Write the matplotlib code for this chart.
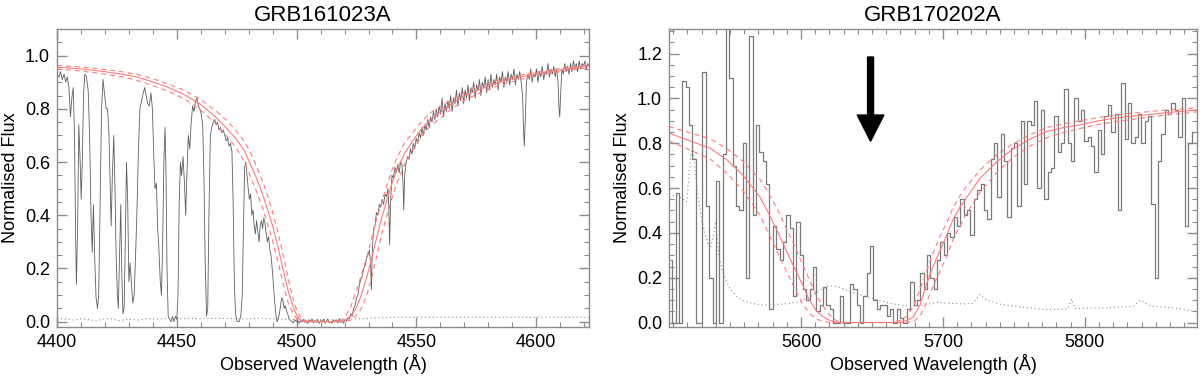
import matplotlib
matplotlib.use("Agg")
import matplotlib.pyplot as plt
import matplotlib.ticker as mticker

plt.rcParams["font.family"] = ["Liberation Sans", "DejaVu Sans"]

# ---------------- GRB161023A (left) ----------------
wave_a = [
    4400.0, 4400.8, 4401.5, 4402.2, 4403.0, 4403.6, 4404.3, 4405.0, 4405.6, 4406.2,
    4406.8, 4407.3, 4407.8, 4408.1, 4408.6, 4409.1, 4409.6, 4410.1, 4410.6, 4411.1,
    4411.6, 4412.3, 4413.0, 4413.6, 4414.2, 4414.7, 4415.2, 4415.7, 4416.3, 4416.9,
    4417.4, 4418.0, 4418.6, 4419.2, 4419.8, 4420.5, 4421.1, 4421.7, 4422.2, 4422.6,
    4423.1, 4423.7, 4424.2, 4424.7, 4425.2, 4425.6, 4426.1, 4426.6, 4427.0, 4427.5,
    4428.0, 4428.5, 4429.0, 4429.5, 4430.0, 4430.5, 4431.0, 4431.6, 4432.2, 4432.8,
    4433.4, 4434.0, 4434.6, 4435.3, 4436.0, 4436.6, 4437.2, 4437.8, 4438.5, 4439.2,
    4439.8, 4440.4, 4440.9, 4441.5, 4442.0, 4442.5, 4443.1, 4443.6, 4444.1, 4444.6,
    4445.1, 4445.5, 4445.9, 4446.4, 4447.0, 4447.6, 4448.2, 4448.8, 4449.4, 4450.0,
    4450.5, 4451.0, 4451.5, 4452.0, 4452.6, 4453.2, 4453.7, 4454.2, 4454.8, 4455.4,
    4456.0, 4456.6, 4457.2, 4457.8, 4458.4, 4459.0, 4459.6, 4460.2, 4460.8, 4461.3,
    4461.8, 4462.4, 4462.9, 4463.4, 4464.0, 4464.6, 4465.2, 4465.8, 4466.4, 4467.0,
    4467.6, 4468.2, 4468.8, 4469.4, 4470.0, 4470.6, 4471.2, 4471.8, 4472.4, 4473.0,
    4473.5, 4474.0, 4474.5, 4475.2, 4476.0, 4476.7, 4477.3, 4477.8, 4478.3, 4478.8,
    4479.3, 4479.8, 4480.3, 4480.8, 4481.3, 4481.8, 4482.3, 4482.8, 4483.3, 4483.8,
    4484.3, 4484.8, 4485.3, 4485.8, 4486.3, 4486.8, 4487.3, 4487.8, 4488.3, 4488.8,
    4489.3, 4489.8, 4490.3, 4490.8, 4491.3, 4491.8, 4492.3, 4492.8, 4493.3, 4493.8,
    4494.3, 4494.8, 4495.3, 4495.8, 4496.3, 4496.8, 4497.4,
    4498.0, 4498.6, 4499.2, 4499.8, 4500.4, 4501.0, 4501.6, 4502.2, 4502.8, 4503.4,
    4504.0, 4504.6, 4505.2, 4505.8, 4506.4, 4507.0, 4507.6, 4508.2, 4508.8, 4509.4,
    4510.0, 4510.6, 4511.2, 4511.8, 4512.4, 4513.0, 4513.6, 4514.2, 4514.8, 4515.4,
    4516.0, 4516.6, 4517.2, 4517.8, 4518.4, 4519.0, 4519.6, 4520.2, 4520.8, 4521.4,
    4522.0, 4522.6, 4523.2, 4523.8, 4524.4, 4525.0, 4525.6, 4526.2, 4526.8, 4527.4,
    4528.0, 4528.6, 4529.2, 4529.8, 4530.4, 4530.9, 4531.2, 4531.6, 4532.1, 4532.7,
    4533.3, 4533.9, 4534.5, 4535.1, 4535.7, 4536.3, 4536.9, 4537.5, 4538.1, 4538.5,
    4538.8, 4539.2, 4539.8, 4540.4, 4541.0, 4541.6, 4542.2, 4542.8, 4543.4, 4544.0,
    4544.4, 4544.7, 4545.1, 4545.7, 4546.3, 4546.9, 4547.5, 4548.1, 4548.7, 4549.3,
    4549.9, 4550.5, 4551.1, 4551.7, 4552.3, 4552.9, 4553.5, 4554.1, 4554.7, 4555.3,
    4555.9, 4556.5, 4557.1, 4557.7, 4558.3, 4558.9, 4559.5, 4560.1, 4560.7, 4561.3,
    4561.9, 4562.5, 4563.1, 4563.7, 4564.3, 4564.9, 4565.5, 4566.1, 4566.7, 4567.3,
    4567.9, 4568.5, 4569.1, 4569.7, 4570.3, 4570.9, 4571.5, 4572.1, 4572.7, 4573.3,
    4573.9, 4574.5, 4575.1, 4575.7, 4576.3, 4576.9, 4577.5, 4578.1, 4578.7, 4579.3,
    4579.9, 4580.5, 4581.1, 4581.7, 4582.3, 4582.9, 4583.5, 4584.1, 4584.7, 4585.3,
    4585.9, 4586.5, 4587.1, 4587.7, 4588.3, 4588.9, 4589.5, 4590.1, 4590.7, 4591.3,
    4591.9, 4592.5, 4593.1, 4593.7, 4594.3, 4594.7, 4595.0, 4595.4, 4595.9, 4596.5,
    4597.1, 4597.7, 4598.3, 4598.9, 4599.5, 4600.1, 4600.7, 4601.3, 4601.9, 4602.5,
    4603.1, 4603.7, 4604.3, 4604.9, 4605.5, 4606.1, 4606.7, 4607.3, 4607.9, 4608.5,
    4609.1, 4609.5, 4609.8, 4610.2, 4610.7, 4611.3, 4611.9, 4612.5, 4613.1, 4613.7,
    4614.3, 4614.9, 4615.5, 4616.1, 4616.7, 4617.3, 4617.9, 4618.5, 4619.1, 4619.7,
    4620.3, 4620.9, 4621.5, 4622.0,
]
flux_a = [
    0.93, 0.92, 0.94, 0.91, 0.93, 0.90, 0.92, 0.88, 0.77, 0.84,
    0.88, 0.70, 0.30, 0.14, 0.35, 0.74, 0.62, 0.46, 0.62, 0.86,
    0.93, 0.92, 0.87, 0.70, 0.40, 0.26, 0.44, 0.25, 0.09, 0.05,
    0.10, 0.45, 0.80, 0.91, 0.86, 0.80, 0.80, 0.70, 0.52, 0.36,
    0.55, 0.70, 0.50, 0.24, 0.10, 0.05, 0.25, 0.44, 0.20, 0.03,
    0.05, 0.30, 0.60, 0.45, 0.15, 0.22, 0.15, 0.07, 0.10, 0.25,
    0.43, 0.65, 0.80, 0.83, 0.86, 0.88, 0.85, 0.82, 0.81, 0.86,
    0.80, 0.62, 0.50, 0.52, 0.35, 0.28, 0.15, 0.10, 0.30, 0.60,
    0.73, 0.55, 0.20, 0.02, 0.01, 0.00, 0.02, 0.00, 0.02, 0.01,
    0.10, 0.45, 0.60, 0.55, 0.62, 0.52, 0.40, 0.55, 0.70, 0.65,
    0.75, 0.81, 0.79, 0.83, 0.84, 0.81, 0.80, 0.78, 0.74, 0.55,
    0.25, 0.02, 0.05, 0.40, 0.70, 0.73, 0.75, 0.76, 0.74, 0.75,
    0.72, 0.73, 0.71, 0.72, 0.70, 0.68, 0.69, 0.66, 0.67, 0.64,
    0.45, 0.15, 0.03, 0.00, 0.00, 0.02, 0.10, 0.35, 0.58, 0.60,
    0.55, 0.50, 0.46, 0.48, 0.40, 0.42, 0.36, 0.33, 0.38, 0.34,
    0.30, 0.36, 0.38, 0.35, 0.39, 0.37, 0.33, 0.30, 0.32, 0.27,
    0.25, 0.20, 0.14, 0.08, 0.03, 0.00, 0.01, 0.03, 0.06, 0.09,
    0.08, 0.05, 0.06, 0.04, 0.03, 0.01, 0.005,
    0.000, -0.004, 0.008, 0.000, 0.006, -0.006, 0.004, -0.002, 0.009, -0.003,
    0.003, -0.007, 0.006, 0.001, 0.010, -0.004, 0.005, -0.002, 0.008, -0.006,
    0.004, 0.000, 0.009, -0.005, 0.003, 0.010, -0.004, 0.002, -0.006, 0.007,
    0.000, 0.006, -0.005, 0.012, -0.003, 0.004, -0.006, 0.008, 0.002, 0.015,
    0.01, 0.03, 0.02, 0.05, 0.06, 0.09, 0.10, 0.14, 0.16, 0.17,
    0.20, 0.21, 0.24, 0.25, 0.27, 0.21, 0.12, 0.26, 0.35, 0.36,
    0.41, 0.40, 0.44, 0.43, 0.46, 0.44, 0.48, 0.47, 0.50, 0.42,
    0.29, 0.45, 0.55, 0.54, 0.58, 0.56, 0.59, 0.56, 0.60, 0.59,
    0.52, 0.42, 0.55, 0.60, 0.62, 0.61, 0.65, 0.63, 0.67, 0.65,
    0.69, 0.67, 0.71, 0.69, 0.73, 0.70, 0.74, 0.72, 0.76, 0.73,
    0.77, 0.75, 0.79, 0.76, 0.80, 0.77, 0.81, 0.78, 0.84, 0.77,
    0.82, 0.79, 0.83, 0.80, 0.85, 0.79, 0.84, 0.82, 0.87, 0.81,
    0.86, 0.83, 0.88, 0.82, 0.87, 0.84, 0.89, 0.83, 0.88, 0.86,
    0.90, 0.84, 0.89, 0.87, 0.91, 0.85, 0.90, 0.88, 0.92, 0.86,
    0.91, 0.87, 0.93, 0.88, 0.91, 0.89, 0.93, 0.87, 0.92, 0.90,
    0.94, 0.88, 0.92, 0.90, 0.94, 0.89, 0.93, 0.91, 0.95, 0.89,
    0.93, 0.91, 0.94, 0.90, 0.85, 0.72, 0.66, 0.75, 0.90, 0.93,
    0.91, 0.95, 0.90, 0.93, 0.92, 0.95, 0.90, 0.94, 0.92, 0.96,
    0.91, 0.94, 0.93, 0.97, 0.92, 0.95, 0.93, 0.96, 0.92, 0.95,
    0.90, 0.80, 0.77, 0.86, 0.95, 0.93, 0.97, 0.94, 0.96, 0.93,
    0.97, 0.94, 0.98, 0.95, 0.97, 0.94, 0.98, 0.95, 0.97, 0.96,
    0.98, 0.95, 0.97, 0.96,
]

err_wave_a = [4400, 4404, 4407, 4410, 4413, 4416, 4419, 4422, 4426, 4430, 4434, 4438,
              4442, 4446, 4450, 4455, 4460, 4466, 4472, 4478, 4484, 4490, 4496, 4502,
              4508, 4514, 4520, 4526, 4532, 4540, 4550, 4560, 4575, 4590, 4605, 4622]
err_a = [0.012, 0.010, 0.006, 0.011, 0.008, 0.003, 0.009, 0.012, 0.004, 0.010, 0.006, 0.012,
         0.009, 0.013, 0.010, 0.013, 0.011, 0.013, 0.012, 0.010, 0.013, 0.011, 0.009, 0.006,
         0.008, 0.006, 0.008, 0.011, 0.014, 0.016, 0.017, 0.016, 0.017, 0.016, 0.017, 0.016]

model_wave_a = [4400, 4410, 4418, 4426, 4433, 4439, 4446, 4453, 4460, 4466.6,
                4471, 4475, 4478, 4480.5, 4483, 4485.5, 4487.5, 4490, 4492, 4494.4,
                4496.5, 4498.6, 4500, 4501.4, 4503, 4505, 4515, 4518, 4520.2, 4522.5,
                4525.1, 4527, 4529.3, 4531.5, 4533.5, 4535.5, 4537.7, 4539.8, 4541.8, 4545,
                4548.8, 4552, 4555.8, 4562, 4566, 4570, 4577, 4583.7, 4590, 4597.6,
                4604, 4611.5, 4617, 4622]
model_a = [0.957, 0.950, 0.942, 0.932, 0.920, 0.904, 0.882, 0.854, 0.816, 0.766,
           0.725, 0.684, 0.645, 0.596, 0.545, 0.487, 0.432, 0.360, 0.290, 0.194,
           0.115, 0.055, 0.025, 0.008, 0.001, 0.000, 0.000, 0.001, 0.005, 0.020,
           0.055, 0.100, 0.168, 0.245, 0.320, 0.390, 0.458, 0.520, 0.571, 0.632,
           0.684, 0.724, 0.760, 0.800, 0.827, 0.848, 0.875, 0.897, 0.912, 0.928,
           0.938, 0.948, 0.955, 0.962]
model_hi_a = [0.963, 0.957, 0.950, 0.941, 0.930, 0.916, 0.895, 0.870, 0.835, 0.790,
              0.755, 0.715, 0.680, 0.640, 0.590, 0.535, 0.485, 0.410, 0.345, 0.250,
              0.160, 0.085, 0.045, 0.020, 0.006, 0.001, 0.000, 0.003, 0.018, 0.055,
              0.120, 0.175, 0.245, 0.320, 0.390, 0.450, 0.515, 0.570, 0.615, 0.670,
              0.715, 0.750, 0.785, 0.820, 0.843, 0.862, 0.887, 0.907, 0.920, 0.935,
              0.944, 0.953, 0.960, 0.966]
model_lo_a = [0.950, 0.942, 0.933, 0.922, 0.908, 0.890, 0.868, 0.838, 0.795, 0.742,
              0.695, 0.650, 0.605, 0.550, 0.495, 0.435, 0.380, 0.305, 0.235, 0.140,
              0.070, 0.030, 0.012, 0.004, 0.001, 0.000, 0.000, 0.000, 0.001, 0.006,
              0.025, 0.050, 0.100, 0.170, 0.250, 0.330, 0.400, 0.465, 0.520, 0.590,
              0.650, 0.695, 0.735, 0.780, 0.808, 0.832, 0.862, 0.886, 0.902, 0.920,
              0.930, 0.942, 0.949, 0.955]

# ---------------- GRB170202A (right) ----------------
wave_b = [
    5508.2, 5510.6, 5512.9, 5515.3, 5517.6, 5520.0, 5522.4, 5524.7, 5527.1, 5529.4,
    5531.8, 5534.2, 5536.5, 5538.9, 5541.2, 5543.6, 5546.0, 5548.3, 5550.7, 5553.0,
    5555.4, 5557.8, 5560.1, 5562.5, 5564.8, 5567.2, 5569.6, 5571.9, 5574.3, 5576.6,
    5579.0, 5581.4, 5583.7, 5586.1, 5588.4, 5590.8, 5593.2, 5595.5, 5597.9, 5600.2,
    5602.6, 5605.0, 5607.3, 5609.7, 5612.0, 5614.4, 5616.8, 5619.1, 5621.5, 5623.8,
    5626.2, 5628.6, 5630.9, 5633.3, 5635.6, 5638.0, 5640.4, 5642.7, 5645.1, 5647.4,
    5649.8, 5652.2, 5654.5, 5656.9, 5659.2, 5661.6, 5664.0, 5666.3, 5668.7, 5671.0,
    5673.4, 5675.8, 5678.1, 5680.5, 5682.8, 5685.2, 5687.6, 5689.9, 5692.3, 5694.6,
    5697.0, 5699.4, 5701.7, 5704.1, 5706.4, 5708.8, 5711.2, 5713.5, 5715.9, 5718.2,
    5720.6, 5723.0, 5725.3, 5727.7, 5730.0, 5732.4, 5734.8, 5737.1, 5739.5, 5741.8,
    5744.2, 5746.6, 5748.9, 5751.3, 5753.6, 5756.0, 5758.4, 5760.7, 5763.1, 5765.4,
    5767.8, 5770.2, 5772.5, 5774.9, 5777.2, 5779.6, 5782.0, 5784.3, 5786.7, 5789.0,
    5791.4, 5793.8, 5796.1, 5798.5, 5800.8, 5803.2, 5805.6, 5807.9, 5810.3, 5812.6,
    5815.0, 5817.4, 5819.7, 5822.1, 5824.4, 5826.8, 5829.2, 5831.5, 5833.9, 5836.2,
    5838.6, 5841.0, 5843.3, 5845.7, 5848.0, 5850.4, 5852.8, 5855.1, 5857.5, 5859.8,
    5862.2, 5864.6, 5866.9, 5869.3, 5871.6, 5874.0, 5876.4,
]
flux_b = [
    0.28, 0.00, 0.58, 0.00, 1.08, 1.05, 0.88, 0.73, 0.00, 0.00,
    1.12, 0.52, 0.20, 0.00, 0.63, 0.00, 0.75, 1.50, 1.09, 0.70,
    0.52, 0.50, 0.80, 0.20, 1.28, 0.48, 0.88, 0.76, 0.72, 0.62,
    0.06, 0.43, 0.33, 0.28, 0.36, 0.48, 0.42, 0.12, 0.45, 0.30,
    0.15, 0.10, 0.15, 0.25, 0.05, 0.08, 0.16, 0.08, 0.06, 0.00,
    0.00, 0.12, 0.00, 0.00, 0.17, 0.15, 0.08, 0.00, 0.12, 0.22,
    0.34, 0.10, 0.06, 0.08, 0.08, 0.03, 0.06, 0.00, 0.06, 0.02,
    0.00, 0.06, 0.18, 0.08, 0.10, 0.22, 0.15, 0.30, 0.20, 0.15,
    0.28, 0.36, 0.30, 0.40, 0.38, 0.47, 0.43, 0.55, 0.48, 0.50,
    0.39, 0.55, 0.59, 0.62, 0.50, 0.46, 0.73, 0.80, 0.56, 0.84,
    0.72, 0.47, 0.78, 0.80, 0.52, 0.90, 0.62, 0.90, 0.88, 0.99,
    0.60, 0.95, 0.55, 0.67, 0.69, 0.92, 0.76, 0.80, 1.04, 0.80,
    0.72, 1.00, 0.90, 0.95, 0.81, 0.83, 0.79, 0.67, 0.86, 0.75,
    0.92, 0.97, 0.85, 0.93, 0.50, 1.07, 0.82, 0.98, 0.80, 0.83,
    0.93, 0.80, 0.90, 0.92, 0.53, 0.20, 0.72, 0.84, 0.95, 0.93,
    0.98, 0.95, 0.83, 1.00, 0.43, 0.80, 0.85,
]

err_wave_b = [5507, 5512, 5517, 5519.5, 5522, 5523.5, 5525, 5527, 5530, 5533,
              5536, 5538, 5540, 5542, 5545, 5550, 5555, 5560, 5566, 5573,
              5582, 5592, 5600, 5608, 5615, 5620, 5626, 5635, 5649, 5663,
              5677, 5686, 5696, 5705, 5713, 5721, 5726, 5731, 5740, 5754,
              5773, 5788, 5790.6, 5793, 5815, 5834, 5839, 5846, 5867, 5879]
err_b = [0.56, 0.57, 0.55, 0.54, 0.72, 0.79, 0.72, 0.58, 0.46, 0.38,
         0.33, 0.38, 0.45, 0.30, 0.22, 0.15, 0.115, 0.095, 0.085, 0.078,
         0.080, 0.085, 0.095, 0.120, 0.150, 0.165, 0.160, 0.137, 0.110, 0.085,
         0.072, 0.078, 0.090, 0.086, 0.083, 0.085, 0.125, 0.100, 0.082, 0.070,
         0.058, 0.060, 0.105, 0.062, 0.066, 0.072, 0.100, 0.074, 0.062, 0.048]

model_wave_b = [5507, 5520, 5536, 5548, 5559, 5571, 5577, 5583, 5589, 5595,
                5601, 5606, 5611, 5616, 5620, 5625, 5630, 5665, 5670, 5675,
                5679, 5684, 5688.5, 5693, 5698, 5703, 5707, 5712, 5717, 5726,
                5738, 5750, 5762, 5773, 5785, 5796, 5808, 5820, 5832, 5843,
                5860, 5879]
model_b = [0.845, 0.815, 0.778, 0.725, 0.658, 0.561, 0.490, 0.412, 0.330, 0.248,
           0.170, 0.099, 0.050, 0.024, 0.010, 0.001, 0.000, 0.000, 0.002, 0.010,
           0.024, 0.080, 0.173, 0.250, 0.322, 0.395, 0.457, 0.515, 0.561, 0.643,
           0.718, 0.778, 0.820, 0.852, 0.870, 0.882, 0.898, 0.912, 0.920, 0.927,
           0.938, 0.949]
model_hi_b = [0.875, 0.850, 0.820, 0.775, 0.720, 0.640, 0.580, 0.510, 0.430, 0.350,
              0.260, 0.190, 0.120, 0.070, 0.035, 0.008, 0.000, 0.000, 0.010, 0.030,
              0.070, 0.150, 0.230, 0.310, 0.385, 0.450, 0.510, 0.565, 0.610, 0.680,
              0.750, 0.800, 0.840, 0.870, 0.887, 0.900, 0.913, 0.925, 0.933, 0.940,
              0.950, 0.958]
model_lo_b = [0.810, 0.775, 0.730, 0.665, 0.590, 0.480, 0.400, 0.320, 0.240, 0.160,
              0.085, 0.040, 0.015, 0.005, 0.000, 0.000, 0.000, 0.000, 0.000, 0.000,
              0.003, 0.030, 0.090, 0.160, 0.230, 0.300, 0.370, 0.430, 0.490, 0.580,
              0.670, 0.740, 0.790, 0.825, 0.848, 0.865, 0.882, 0.895, 0.905, 0.915,
              0.928, 0.940]

RED = "#ff7a7a"
GRAY_FRAME = "#8c8c8c"


def style_axes(ax, xmajor, xminor):
    for sp in ax.spines.values():
        sp.set_color(GRAY_FRAME)
        sp.set_linewidth(1.0)
    ax.xaxis.set_major_locator(mticker.MultipleLocator(xmajor))
    ax.xaxis.set_minor_locator(mticker.MultipleLocator(xminor))
    ax.yaxis.set_major_locator(mticker.MultipleLocator(0.2))
    ax.yaxis.set_minor_locator(mticker.MultipleLocator(0.05))
    ax.yaxis.set_major_formatter(mticker.FormatStrFormatter("%.1f"))
    ax.tick_params(which="both", direction="in", top=True, right=True,
                   color=GRAY_FRAME, labelsize=13, pad=5)
    ax.tick_params(which="major", length=7, width=1.0)
    ax.tick_params(which="minor", length=3.5, width=0.8)
    ax.set_xlabel("Observed Wavelength (\u00c5)", fontsize=13, labelpad=2)
    ax.set_ylabel("Normalised Flux", fontsize=13, labelpad=4)


def draw_models(ax, w, m, hi, lo):
    ax.plot(w, m, color=RED, lw=0.8)
    ax.plot(w, hi, color=RED, lw=0.8, dashes=(4.5, 3.5))
    ax.plot(w, lo, color=RED, lw=0.8, dashes=(4.5, 3.5))


fig = plt.figure(figsize=(12, 3.76), dpi=100)
ax1 = fig.add_axes([0.0475, 0.1303, 0.4433, 0.7926])
ax2 = fig.add_axes([0.5575, 0.1303, 0.44, 0.7926])

# left panel
ax1.plot(wave_a, flux_a, color="#5e5e5e", lw=0.6)
ax1.plot(err_wave_a, err_a, color="#8a8a8a", lw=0.8, linestyle=(0, (1, 2.5)))
draw_models(ax1, model_wave_a, model_a, model_hi_a, model_lo_a)
ax1.set_xlim(4400, 4622)
ax1.set_ylim(-0.02, 1.10)
style_axes(ax1, 50, 10)
ax1.set_title("GRB161023A", fontsize=16, pad=6)

# right panel
ax2.plot(wave_b, flux_b, color="#7a7a7a", lw=0.9, drawstyle="steps-mid")
ax2.plot(err_wave_b, err_b, color="#8a8a8a", lw=0.8, linestyle=(0, (1, 2.5)))
draw_models(ax2, model_wave_b, model_b, model_hi_b, model_lo_b)
ax2.arrow(5649, 1.185, 0, -0.376, width=4.2, head_width=18.8, head_length=0.117,
          length_includes_head=True, color="black")
ax2.set_xlim(5507, 5879)
ax2.set_ylim(-0.02, 1.31)
style_axes(ax2, 100, 10)
ax2.set_title("GRB170202A", fontsize=16, pad=6)

fig.savefig("out.png", dpi=100)
